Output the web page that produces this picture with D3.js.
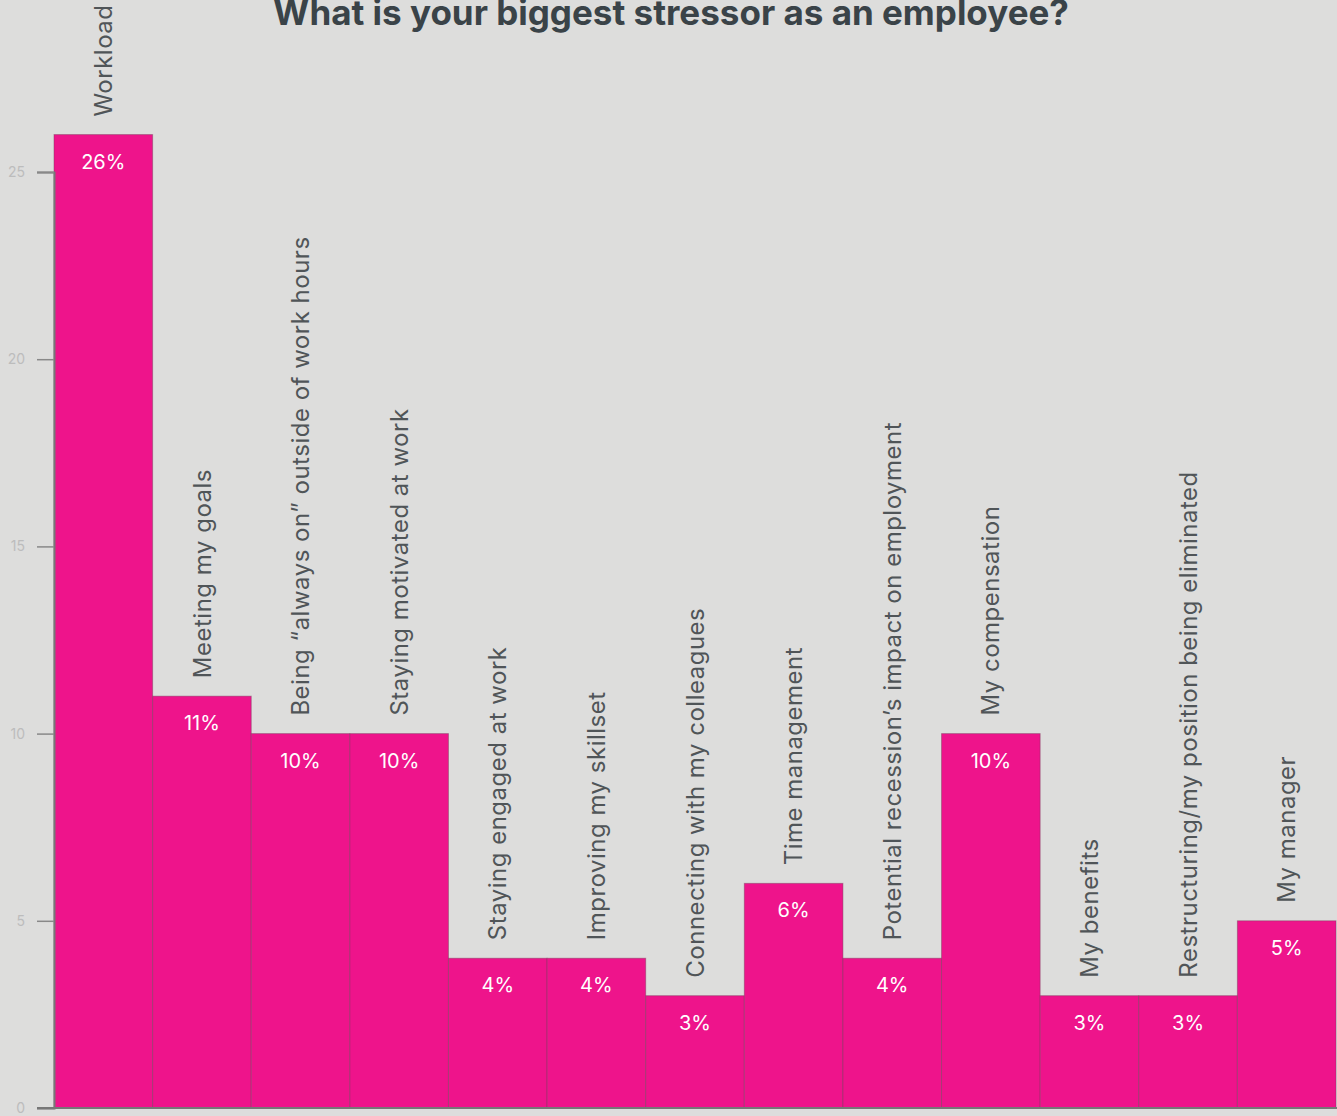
<!doctype html>
<html lang="en">
<head>
<meta charset="UTF-8">
<title>Biggest stressor</title>
<script src="https://d3js.org/d3.v7.min.js"></script>
<style>
  body { margin: 0; background: #dddddc; }
  svg { display: block; font-family: "Inter", "Open Sans", sans-serif; }
</style>
</head>
<body>
<div id="chart"></div>
<script>
// data
var categories = [
  "Workload",
  "Meeting my goals",
  "Being \u201calways on\u201d outside of work hours",
  "Staying motivated at work",
  "Staying engaged at work",
  "Improving my skillset",
  "Connecting with my colleagues",
  "Time management",
  "Potential recession\u2019s impact on employment",
  "My compensation",
  "My benefits",
  "Restructuring/my position being eliminated",
  "My manager"
];
var values = [26, 11, 10, 10, 4, 4, 3, 6, 4, 10, 3, 3, 5];
var yTicks = [0, 5, 10, 15, 20, 25];
var title = "What is your biggest stressor as an employee?";

var width = 1337, height = 1116;
var margin = {left: 54, right: 1, top: 0, bottom: 8};

var svg = d3.select("#chart").append("svg")
  .attr("width", width)
  .attr("height", height);

svg.append("rect")
  .attr("width", width).attr("height", height)
  .attr("fill", "#dddddc");

var x = d3.scaleBand()
  .domain(categories)
  .range([margin.left, width - margin.right])
  .padding(0);

var y = d3.scaleLinear()
  .domain([0, 25])
  .range([height - margin.bottom, 172]);

// bars
svg.selectAll("rect.bar")
  .data(values)
  .enter().append("rect")
  .attr("class", "bar")
  .attr("x", function(d, i) { return x(categories[i]); })
  .attr("y", function(d) { return y(d); })
  .attr("width", x.bandwidth())
  .attr("height", function(d) { return y(0) - y(d); })
  .attr("fill", "#ee148b")
  .attr("stroke", "rgba(120,60,90,0.45)")
  .attr("stroke-width", 1);

// value labels
svg.selectAll("text.val")
  .data(values)
  .enter().append("text")
  .attr("class", "val")
  .attr("x", function(d, i) { return x(categories[i]) + x.bandwidth() / 2; })
  .attr("y", function(d) { return y(d) + 34; })
  .attr("text-anchor", "middle")
  .attr("fill", "#ffffff")
  .attr("font-size", 20)
  .text(function(d) { return d + "%"; });

// category labels, rotated above each bar
svg.selectAll("text.cat")
  .data(values)
  .enter().append("text")
  .attr("class", "cat")
  .attr("transform", function(d, i) {
    var cx = x(categories[i]) + x.bandwidth() / 2;
    return "translate(" + cx + "," + (y(d) - 18) + ") rotate(-90)";
  })
  .attr("dy", "0.36em")
  .attr("text-anchor", "start")
  .attr("fill", "#505558")
  .attr("font-size", 24)
  .attr("letter-spacing", 0.5)
  .text(function(d, i) { return categories[i]; });

// y axis
var yAxis = d3.axisLeft(y)
  .tickValues(yTicks)
  .tickSize(17)
  .tickPadding(12);

var gy = svg.append("g")
  .attr("transform", "translate(" + margin.left + ",0)")
  .call(yAxis);
gy.select(".domain").attr("stroke", "#777").attr("stroke-width", 2);
gy.selectAll(".tick line").attr("stroke", "#888").attr("stroke-width", 1.5);
gy.selectAll(".tick text")
  .attr("fill", "#bcbcbc")
  .attr("font-size", 14)
  .attr("font-family", "Inter, sans-serif");

// baseline
svg.append("line")
  .attr("x1", 37).attr("x2", width)
  .attr("y1", y(0)).attr("y2", y(0))
  .attr("stroke", "#777").attr("stroke-width", 2);

// title
svg.append("text")
  .attr("x", 671)
  .attr("y", 25)
  .attr("text-anchor", "middle")
  .attr("fill", "#3a4348")
  .attr("font-size", 35)
  .attr("font-weight", "bold")
  .text(title);
</script>
</body>
</html>
